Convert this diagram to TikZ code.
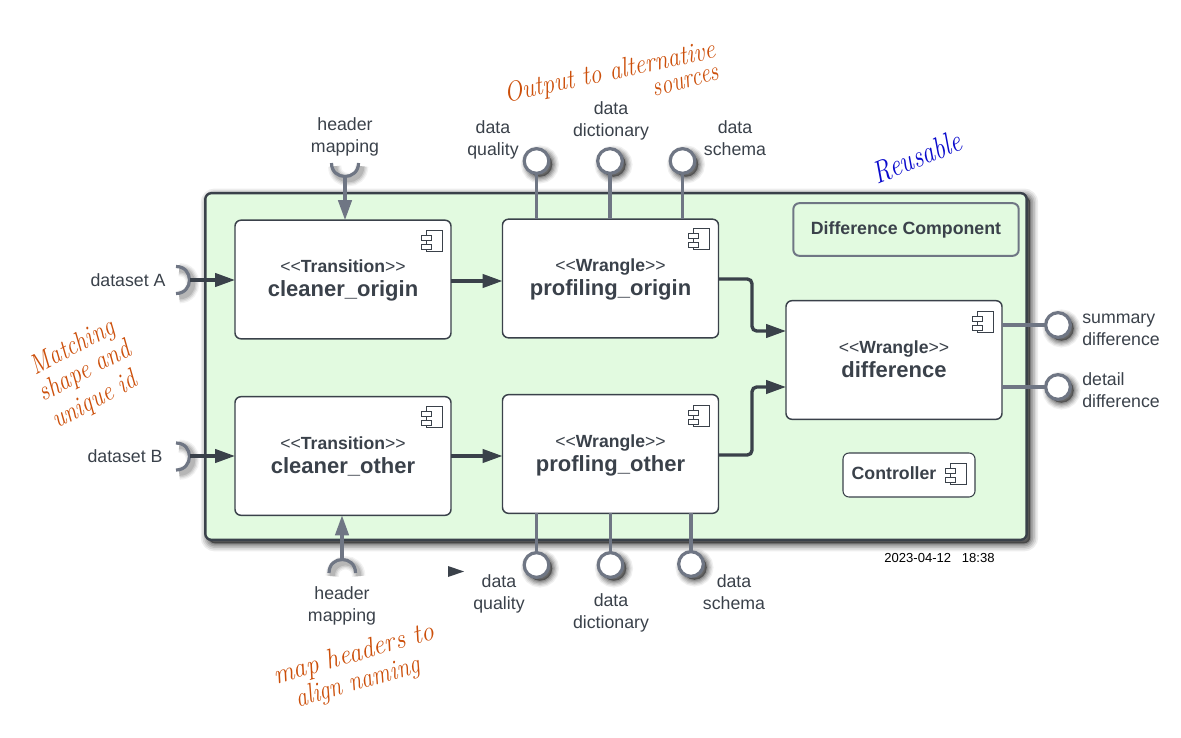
\documentclass[tikz,border=0pt]{standalone}
\usepackage{fontspec}
\usepackage{graphicx}
\usetikzlibrary{arrows.meta}
\newfontfamily\sansfnt{Liberation Sans}
\newcommand{\handfnt}{\normalfont\itshape\addfontfeatures{LetterSpace=10}}
\newcommand{\handtxt}[2]{\scalebox{#1}[1.3]{#2}}
\definecolor{ink}{HTML}{3A414A}
\definecolor{steel}{HTML}{6F7684}
\definecolor{mint}{HTML}{E2FAE0}
\definecolor{rust}{HTML}{CC4F0A}
\definecolor{pen}{HTML}{0A0ACC}
\tikzset{
  x=0.75pt,y=-0.75pt,
  layer/.style 2 args={preaction={draw=black,draw opacity=#2,fill=black,fill opacity=#2,line width=#1,transform canvas={xshift=2.6pt,yshift=-2.6pt}}},
  linelayer/.style 2 args={preaction={draw=black,draw opacity=#2,line width=#1,transform canvas={xshift=2.4pt,yshift=-2.4pt}}},
  bigshadow/.style={layer={12pt}{.07},layer={9.5pt}{.09},layer={7pt}{.11},layer={4.5pt}{.14},layer={2pt}{.18}},
  softshadow/.style={layer={10pt}{.06},layer={8pt}{.08},layer={6pt}{.1},layer={4pt}{.13},layer={2pt}{.15}},
  lineshadow/.style={linelayer={10pt}{.05},linelayer={8pt}{.07},linelayer={6pt}{.09},linelayer={4pt}{.11}},
  comp/.style={draw=ink,line width=1.1pt,fill=white,rounded corners=4.5pt,minimum width=162pt,minimum height=89pt,align=center,text=ink,font=\sansfnt\fontsize{13.2}{18}\selectfont,inner sep=0pt,outer sep=0pt},
  outerbox/.style={draw=ink,line width=1.8pt,fill=mint,rounded corners=4.5pt,minimum width=616pt,minimum height=260pt,outer sep=0pt,bigshadow},
  titlebox/.style={draw=steel,line width=1.5pt,fill=mint,rounded corners=4.5pt,minimum width=169pt,minimum height=39.5pt,text=ink,font=\sansfnt\fontsize{13.3}{16}\selectfont\bfseries,outer sep=0pt},
  ctrlbox/.style={draw=ink,line width=.8pt,fill=white,rounded corners=4.5pt,minimum width=99pt,minimum height=33pt,outer sep=0pt},
  lollipop/.style={circle,draw=steel,fill=white,line width=2.4pt,minimum size=18.5pt,inner sep=0pt,outer sep=0pt,softshadow},
  caption/.style={text=ink,font=\sansfnt\fontsize{13.3}{16.5}\selectfont,align=center,inner sep=0pt},
  captionl/.style={text=ink,font=\sansfnt\fontsize{13.3}{16.5}\selectfont,align=left,inner sep=0pt},
  note/.style={text=rust,font=\handfnt\fontsize{16}{20}\selectfont,inner sep=0pt},
  stem/.style={draw=steel,line width=2.4pt},
  socket/.style={draw=steel,line width=2.4pt,lineshadow},
  flow/.style={draw=ink,line width=2.5pt,-{Triangle[length=15pt,width=10pt]}},
  flowg/.style={draw=steel,line width=2.5pt,-{Triangle[length=15pt,width=10pt]}},
  elbow/.style={draw=ink,line width=2.5pt,rounded corners=3.5pt,-{Triangle[length=15pt,width=10pt]}},
  iconline/.style={draw=ink,line width=.7pt,fill=white},
  pics/compicon/.style={code={
    \draw[iconline] (5,0) rectangle (21,21);
    \draw[iconline] (0,5) rectangle (10,10);
    \draw[iconline] (0,14) rectangle (10,19);
  }}
}
\newcommand{\stereo}[2]{\rule{0pt}{13pt}<<\textbf{#1}>>\\{\fontsize{16.5}{19}\selectfont\bfseries #2}\rule[-5pt]{0pt}{5pt}}
\begin{document}
\begin{tikzpicture}
\useasboundingbox (0,0) rectangle (1181,738);
\node[outerbox] (outer) at (616,366.5) {};
% components
\node[comp] (clo) at (343,279.5) {\stereo{Transition}{cleaner\_origin}};
\node[comp] (pfo) at (610.5,278.5) {\stereo{Wrangle}{profiling\_origin}};
\node[comp] (clb) at (343,456) {\stereo{Transition}{cleaner\_other}};
\node[comp] (pfb) at (610.5,454) {\stereo{Wrangle}{profling\_other}};
\node[comp] (dif) at (894,360) {\stereo{Wrangle}{difference}};
\node[titlebox] (title) at (906,229.5) {Difference Component};
\node[ctrlbox] (ctrl) at (909,475) {};
\node[text=ink,font=\sansfnt\fontsize{13.3}{16}\selectfont\bfseries,inner sep=0pt] (ctrllabel) at (894,473) {Controller};
\pic at (421,230) {compicon};
\pic at (688,228) {compicon};
\pic at (421,406) {compicon};
\pic at (688,405) {compicon};
\pic at (972,311) {compicon};
\pic at (945,463) {compicon};
% provided interfaces
\node[lollipop] (tq) at (536.5,161) {};
\node[lollipop] (td) at (610,161) {};
\node[lollipop] (ts) at (682.5,161) {};
\node[lollipop] (bq) at (536.5,565) {};
\node[lollipop] (bd) at (610.5,565) {};
\node[lollipop] (bs) at (691,564) {};
\node[lollipop] (sd) at (1058,325) {};
\node[lollipop] (dd) at (1058,387) {};
\draw[stem] (tq) -- (pfo.north -| tq);
\draw[stem] (td) -- (pfo.north -| td);
\draw[stem] (ts) -- (pfo.north -| ts);
\draw[stem] (bq) -- (pfb.south -| bq);
\draw[stem] (bd) -- (pfb.south -| bd);
\draw[stem] (bs) -- (pfb.south -| bs);
\draw[stem] (sd) -- (dif.east |- sd);
\draw[stem] (dd) -- (dif.east |- dd);
% required interfaces
\draw[socket] (331.5,163) .. controls (331.5,181) and (358.5,181) .. (358.5,163);
\draw[socket] (329,573) .. controls (329,555) and (355.5,555) .. (355.5,573);
\draw[socket] (176,266.5) .. controls (194,266.5) and (194,293.5) .. (176,293.5);
\draw[socket] (176,443) .. controls (194,443) and (194,470) .. (176,470);
\coordinate (hmt) at (345,177);
\coordinate (hmb) at (342,560);
\coordinate (dsa) at (190,280);
\coordinate (dsb) at (190,456);
\draw[flowg] (hmt) -- (clo.north -| hmt);
\draw[flowg] (hmb) -- (clb.south -| hmb);
\draw[flow] (dsa) -- (clo.west |- dsa);
\draw[flow] (dsb) -- (clb.west |- dsb);
% flows
\coordinate (r1) at (0,281);
\coordinate (r2) at (0,456);
\draw[flow] (clo.east |- r1) -- (pfo.west |- r1);
\draw[flow] (clb.east |- r2) -- (pfb.west |- r2);
\coordinate (t1) at (752,331);
\coordinate (t2) at (752,387);
\coordinate (s1) at (0,279);
\coordinate (s2) at (0,455);
\draw[elbow] (pfo.east |- s1) -| (t1) -- (dif.west |- t1);
\draw[elbow] (pfb.east |- s2) -| (t2) -- (dif.west |- t2);
\fill[ink] (448,566) -- (464,571.5) -- (448,577) -- cycle;
% labels
\node[caption] (l1) at (345,137) {header\\mapping};
\node[caption] (l2) at (493,140) {data\\quality};
\node[caption] (l3) at (611,121) {data\\dictionary};
\node[caption] (l4) at (735,138) {data\\schema};
\node[caption] (l5) at (128,280) {dataset A};
\node[caption] (l6) at (125,456) {dataset B};
\node[caption] (l7) at (342,606) {header\\mapping};
\node[caption] (l8) at (499,594) {data\\quality};
\node[caption] (l9) at (611,613) {data\\dictionary};
\node[caption] (l10) at (734,592) {data\\schema};
\node[captionl,anchor=west] (l11) at (1082,330) {summary\\difference};
\node[captionl,anchor=west] (l12) at (1082,390) {detail\\difference};
\node[text=black,font=\sansfnt\fontsize{9.8}{12}\selectfont,inner sep=0pt] (stamp) at (939.5,558) {2023-04-12\hspace{8pt}18:38};
% notes
\node[note,rotate=12] (n1) at (610,73) {\handtxt{1.12}{Output to alternative}};
\node[note,rotate=15] (n2) at (686,82) {\handtxt{1.05}{sources}};
\node[note,rotate=22,text=pen,font=\handfnt\fontsize{18}{22}\selectfont] (n3) at (917,157) {\handtxt{1.05}{Reusable}};
\node[note,rotate=28] (n4) at (73,348) {\handtxt{1.08}{Matching}};
\node[note,rotate=28] (n5) at (85,372) {\handtxt{1.12}{shape and}};
\node[note,rotate=28] (n6) at (95,401) {\handtxt{1.1}{unique id}};
\node[note,rotate=16] (n7) at (354,655) {\handtxt{1.2}{map headers to}};
\node[note,rotate=16] (n8) at (358,683) {\handtxt{1.08}{align naming}};
\end{tikzpicture}
\end{document}
